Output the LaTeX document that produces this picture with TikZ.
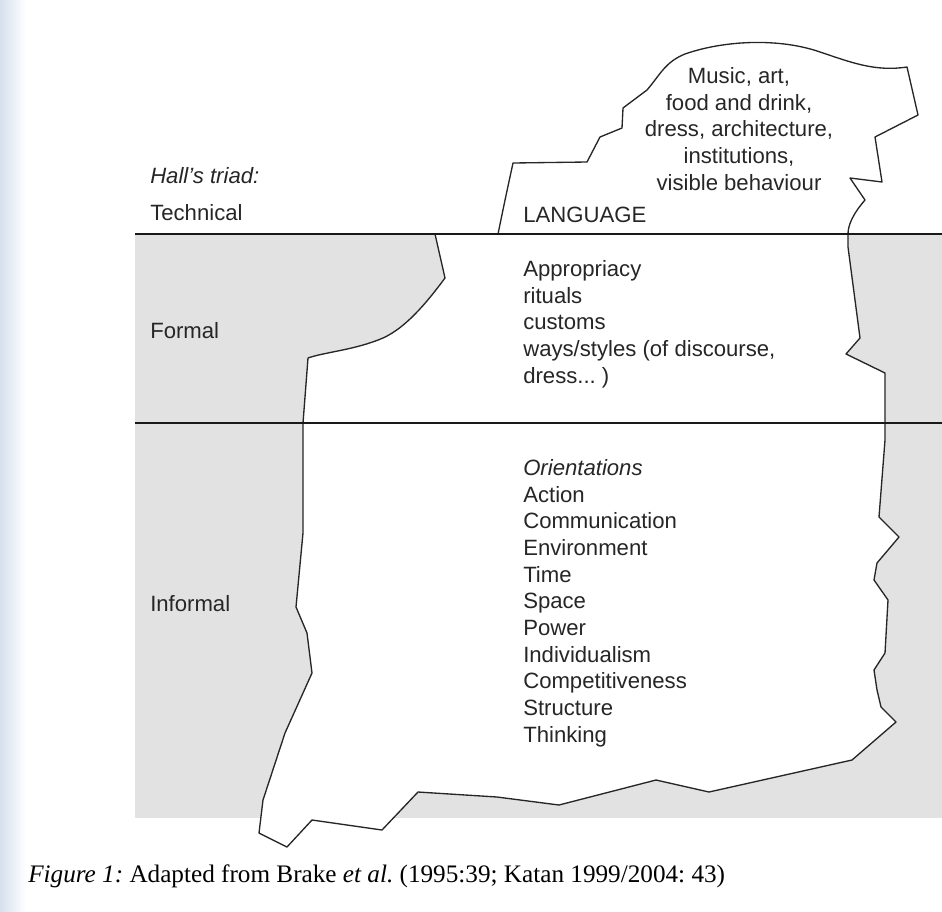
\documentclass[tikz,border=0pt]{standalone}
\usepackage{fontspec}
\setmainfont{Liberation Sans}
\newfontfamily\capfont{Liberation Serif}
\usetikzlibrary{positioning}

\definecolor{seagray}{RGB}{226,226,226}
\definecolor{scanedge}{RGB}{214,224,236}

\tikzset{
  tag/.style={font=\fontsize{16.6}{20}\selectfont, text=black!85, inner sep=0pt},
  berg/.style={draw=black!85, line width=1pt, line join=round},
  waterline/.style={draw=black!90, line width=1.6pt},
}

\begin{document}
\frenchspacing
\begin{tikzpicture}[x=0.75pt,y=-0.75pt]
  \useasboundingbox (0,0) rectangle (942,911);
  \shade[left color=scanedge, right color=white] (0,0) rectangle (26,911);

  % sea
  \fill[seagray] (135,234) rectangle (942,818);

  % iceberg under the water
  \filldraw[berg, fill=white] (435,234) -- (445,278)
      .. controls (425,305) and (405,328) .. (383,338)
      .. controls (355,350) and (325,352) .. (308,358)
      -- (303,423) -- (303,533) -- (296,607) -- (307,633) -- (312,673)
      -- (285,733) -- (263,800) -- (259,833) -- (287,847) -- (312,820)
      -- (382,830) -- (418,792) -- (497,797) -- (559,805) -- (656,780)
      -- (709,792) -- (852,760) -- (896,722) -- (881,707) -- (877,690)
      -- (874,670) -- (885,653) -- (888,600) -- (874,580) -- (877,563)
      -- (899,537) -- (879,517) -- (885,440) -- (885,373) -- (846,354)
      -- (860,338) -- (848,247) -- (848,234) -- cycle;

  % tip above the water
  \draw[berg] (498,234) .. controls (505,200) .. (513,163) -- (587,162)
      -- (600,137) -- (622,128) -- (623,108) -- (647,90)
      .. controls (660,75) and (665,62) .. (685,54)
      .. controls (725,40) and (780,38) .. (820,52)
      .. controls (850,62) and (875,72) .. (907,67)
      -- (918,115) -- (875,137) -- (882,182) -- (850,178) -- (865,200)
      .. controls (852,215) and (848,226) .. (848,234);

  % water lines
  \coordinate (w1) at (135,234);
  \coordinate (w1e) at (942,234);
  \coordinate (w2) at (135,423);
  \coordinate (w2e) at (942,423);
  \draw[waterline] (w1) -- (w1e);
  \draw[waterline] (w2) -- (w2e);

  % Hall's levels
  \node[tag, anchor=base west] (halls) at (150,183) {\itshape Hall's triad:};
  \node[tag, anchor=base west] (technical) at (150,220) {Technical};
  \node[tag, anchor=base west] (formal) at (150,338) {Formal};
  \node[tag, anchor=base west] (informal) at (150,611) {Informal};

  % base of a multi-line node = baseline of its last line
  \node[tag, anchor=base west] (language) at (523,222) {LANGUAGE};
  \node[tag, align=center, anchor=base] (visible) at (739,190)
      {Music, art,\\ food and drink,\\ dress, architecture,\\ institutions,\\ visible behaviour};
  \node[tag, align=left, anchor=base west] (formalitems) at (523,383)
      {Appropriacy\\ rituals\\ customs\\ ways/styles (of discourse,\\ dress... )};
  \node[tag, align=left, anchor=base west] (orient) at (523,742)
      {\itshape Orientations\\ Action\\ Communication\\ Environment\\ Time\\ Space\\ Power\\
       Individualism\\ Competitiveness\\ Structure\\ Thinking};

  \node[anchor=base west, inner sep=0pt, font=\capfont\fontsize{18.9}{22}\selectfont] (caption) at (28,882)
      {\textit{Figure 1:} Adapted from Brake \textit{et al.} (1995:39; Katan 1999/2004: 43)};
\end{tikzpicture}
\end{document}
